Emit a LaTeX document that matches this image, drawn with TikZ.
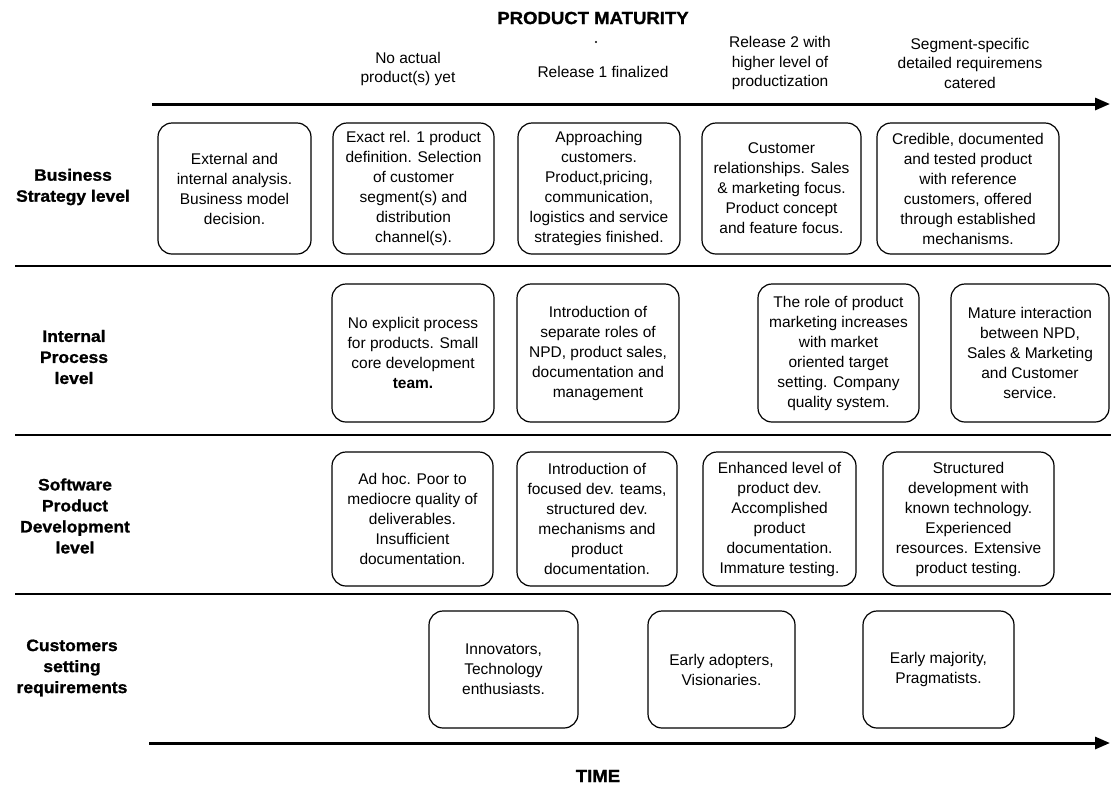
\documentclass[tikz,border=0pt]{standalone}
\usepackage{fontspec}
\setmainfont{Liberation Sans}
\newfontfamily\heavyfont{Liberation Sans Bold}[FakeBold=1.2, FakeStretch=1.06]
\usetikzlibrary{arrows.meta}
\begin{document}
\begin{tikzpicture}[x=1pt,y=-1pt,
  stage/.style={draw, rounded corners=14pt, line width=1.2pt, align=center,
    inner sep=0pt, font=\fontsize{15.5}{20}\selectfont},
  level/.style={align=center, font=\fontsize{16.5}{21}\selectfont\heavyfont},
  phase/.style={align=center, font=\fontsize{15.5}{19.5}\selectfont},
  heading/.style={font=\fontsize{17.5}{20}\selectfont\heavyfont},
  axis/.style={line width=3pt, -{Triangle[length=15pt,width=12pt]}},
  rowrule/.style={line width=1.4pt}]
\useasboundingbox (0,0) rectangle (1111,785);
\fill[white] (0,0) rectangle (1111,785);

% axis titles
\node[heading] (maturity) at (593,18) {PRODUCT MATURITY};
\node[heading] (time) at (598,776) {TIME};
\fill (596,42) circle (1.2pt);

% maturity phases
\node[phase] (ph1) at (408,69) {No actual\\product(s) yet};
\node[phase] (ph2) at (603,72) {Release 1 finalized};
\node[phase] (ph3) at (780,63) {Release 2 with\\higher level of\\productization};
\node[phase] (ph4) at (970,63) {Segment-specific\\detailed requiremens\\catered};

% axes
\coordinate (mA) at (152,104);
\coordinate (mB) at (1110,104);
\draw[axis] (mA) -- (mB);
\coordinate (tA) at (149,743);
\coordinate (tB) at (1110,743);
\draw[axis] (tA) -- (tB);

% row separators
\coordinate (r1a) at (15,266);  \coordinate (r1b) at (1111,266);
\coordinate (r2a) at (15,435);  \coordinate (r2b) at (1111,435);
\coordinate (r3a) at (15,594);  \coordinate (r3b) at (1111,594);
\draw[rowrule] (r1a) -- (r1b);
\draw[rowrule] (r2a) -- (r2b);
\draw[rowrule] (r3a) -- (r3b);

% level names
\node[level] (lvBusiness) at (73,187) {Business\\Strategy level};
\node[level] (lvProcess) at (74,357) {Internal\\Process\\level};
\node[level] (lvDev) at (75,516) {Software\\Product\\Development\\level};
\node[level] (lvCust) at (72,668) {Customers\\setting\\requirements};

% business strategy level
\node[stage, minimum width=153, minimum height=131] (b1) at (234.5,188.5)
  {External and\\internal analysis.\\Business model\\decision.};
\node[stage, minimum width=161, minimum height=131] (b2) at (413.5,188.5)
  {Exact rel. 1 product\\definition. Selection\\of customer\\segment(s) and\\distribution\\channel(s).};
\node[stage, minimum width=162, minimum height=131] (b3) at (599,188.5)
  {Approaching\\customers.\\Product,pricing,\\communication,\\logistics and service\\strategies finished.};
\node[stage, minimum width=159, minimum height=131] (b4) at (781.5,188.5)
  {Customer\\relationships. Sales\\\& marketing focus.\\Product concept\\and feature focus.};
\node[stage, minimum width=182, minimum height=131] (b5) at (968,188.5)
  {Credible, documented\\and tested product\\with reference\\customers, offered\\through established\\mechanisms.};

% internal process level
\node[stage, minimum width=162, minimum height=138] (p2) at (413,353)
  {No explicit process\\for products. Small\\core development\\\textbf{team.}};
\node[stage, minimum width=162, minimum height=138] (p3) at (598,353)
  {Introduction of\\separate roles of\\NPD, product sales,\\documentation and\\management};
\node[stage, minimum width=161, minimum height=138] (p4) at (838.5,353)
  {The role of product\\marketing increases\\with market\\oriented target\\setting. Company\\quality system.};
\node[stage, minimum width=158, minimum height=138] (p5) at (1030,353)
  {Mature interaction\\between NPD,\\Sales \& Marketing\\and Customer\\service.};

% software product development level
\node[stage, minimum width=161, minimum height=134] (d2) at (412.5,519)
  {Ad hoc. Poor to\\mediocre quality of\\deliverables.\\Insufficient\\documentation.};
\node[stage, minimum width=160, minimum height=134] (d3) at (597,519)
  {Introduction of\\focused dev. teams,\\structured dev.\\mechanisms and\\product\\documentation.};
\node[stage, minimum width=153, minimum height=134] (d4) at (779.5,519)
  {Enhanced level of\\product dev.\\Accomplished\\product\\documentation.\\Immature testing.};
\node[stage, minimum width=171, minimum height=134] (d5) at (968.5,519)
  {Structured\\development with\\known technology.\\Experienced\\resources. Extensive\\product testing.};

% customers setting requirements
\node[stage, minimum width=149, minimum height=117] (c1) at (503.5,669.5)
  {Innovators,\\Technology\\enthusiasts.};
\node[stage, minimum width=147, minimum height=117] (c2) at (721.5,669.5)
  {Early adopters,\\Visionaries.};
\node[stage, minimum width=151, minimum height=117] (c3) at (938.5,669.5)
  {Early majority,\\Pragmatists.};
\end{tikzpicture}
\end{document}
